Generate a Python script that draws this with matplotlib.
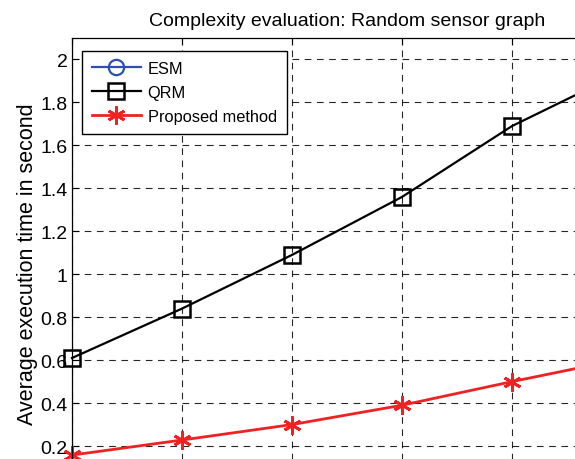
import numpy as np
import matplotlib
matplotlib.use('Agg')
import matplotlib.pyplot as plt

plt.rcParams['font.family'] = ['Liberation Sans', 'DejaVu Sans']

# data (ESM lies above the visible range)
x_points = [1, 2, 3, 4, 5, 6]
esm_time = []
qrm_time = [0.61, 0.84, 1.09, 1.36, 1.69, 1.94]
proposed_time = [0.158, 0.228, 0.30, 0.39, 0.50, 0.605]
y_ticks = [0.2, 0.4, 0.6, 0.8, 1.0, 1.2, 1.4, 1.6, 1.8, 2.0]
y_ticklabels = ['0.2', '0.4', '0.6', '0.8', '1', '1.2', '1.4', '1.6', '1.8', '2']

fig = plt.figure(figsize=(5.75, 4.6), dpi=100)
# the original figure is cropped: axes run past the right and bottom edges
ax = fig.add_axes([72/575, 1 - 490/460, 550/575, (490 - 39)/460])

ax.plot(esm_time, esm_time, color='#2f4fb0', lw=1.6, marker='o', ms=11,
        mfc='none', mew=1.6, label='ESM')
ax.plot(x_points, qrm_time, color='black', lw=1.6, marker='s', ms=11,
        mfc='none', mew=1.8, label='QRM', clip_on=False)
ax.plot(x_points, proposed_time, color='#ee2222', lw=2.0, marker=(6, 2, 0),
        ms=13, mew=2.0, label='Proposed method', clip_on=False)

ax.set_xlim(1, 6)
ax.set_ylim(0, 2.1)
ax.set_xticks(x_points)
ax.set_yticks(y_ticks)
ax.set_yticklabels(y_ticklabels)
ax.tick_params(direction='in', length=5, width=0.8, labelsize=14,
               top=True, right=True, pad=3)
ax.tick_params(axis='x', labelbottom=False)
ax.grid(True, color='black', linestyle=(0, (6, 5)), linewidth=0.8, alpha=0.85)
for s in ax.spines.values():
    s.set_linewidth(0.9)

ax.set_title('Complexity evaluation: Random sensor graph', fontsize=14, pad=9)
ax.set_ylabel('Average execution time in second', fontsize=15.5, labelpad=2)

leg = ax.legend(loc='upper left', bbox_to_anchor=(10/550, 1 - 13/451),
                borderaxespad=0, fontsize=11.8, fancybox=False, framealpha=1,
                edgecolor='black', handlelength=3.0, labelspacing=0.55,
                borderpad=0.6, handletextpad=0.4)
leg.get_frame().set_linewidth(1.0)

fig.savefig('out.png', dpi=100)
